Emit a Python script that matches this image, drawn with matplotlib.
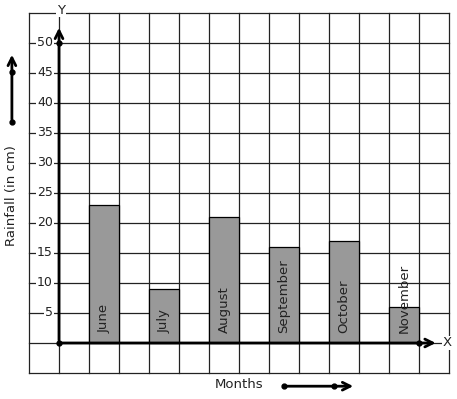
import matplotlib
matplotlib.use('Agg')
import matplotlib.pyplot as plt

months = ['June', 'July', 'August', 'September', 'October', 'November']
rainfall = [23, 9, 21, 16, 17, 6]
bar_left = [1, 3, 5, 7, 9, 11]
y_ticks = [5, 10, 15, 20, 25, 30, 35, 40, 45, 50]

fig = plt.figure(figsize=(4.57, 3.99), dpi=100)
ax = fig.add_axes([0, 0, 1, 1])
ax.set_xlim(-59 / 30, 398 / 30)
ax.set_ylim(-56 / 6, 343 / 6)
ax.axis('off')

# grid
for gx in range(-1, 14):
    ax.plot([gx, gx], [-5, 55], color='#222222', lw=0.9, zorder=1)
for gy in range(-5, 56, 5):
    ax.plot([-1, 13], [gy, gy], color='#222222', lw=0.9, zorder=1)

# bars
ax.bar(bar_left, rainfall, width=1, align='edge', color='#999999',
       edgecolor='black', lw=0.9, zorder=2)
for x, m in zip(bar_left, months):
    ax.text(x + 0.5, 1.6, m, rotation=90, ha='center', va='bottom',
            fontsize=9.5, color='#222222', zorder=3)

# tick labels
for t in y_ticks:
    ax.text(-0.2, t, str(t), ha='right', va='center', fontsize=9, color='#222222',
            bbox=dict(facecolor='white', edgecolor='none', pad=0.6), zorder=3)

# axes
ax.annotate('', xy=(0, 53), xytext=(0, 0),
            arrowprops=dict(arrowstyle='->', lw=2, color='black', mutation_scale=14), zorder=4)
ax.annotate('', xy=(12.65, 0), xytext=(0, 0),
            arrowprops=dict(arrowstyle='->', lw=2, color='black', mutation_scale=14), zorder=4)
ax.plot([0, 0, 12], [0, 50, 0], 'o', color='black', ms=3.5, zorder=5)
ax.text(0.07, 55.5, 'Y', ha='center', va='center', fontsize=9.5, color='#222222',
        bbox=dict(facecolor='white', edgecolor='none', pad=0.5), zorder=3)
ax.text(12.95, 0, 'X', ha='center', va='center', fontsize=9.5, color='#222222',
        bbox=dict(facecolor='white', edgecolor='none', pad=0.5), zorder=3)

# y label with arrow
ax.text(-1.57, 24.5, 'Rainfall (in cm)', rotation=90, ha='center', va='center',
        fontsize=9.5, color='#222222')
ax.annotate('', xy=(-1.57, 48.5), xytext=(-1.57, 36.8),
            arrowprops=dict(arrowstyle='->', lw=2, color='black', mutation_scale=14))
ax.plot([-1.57, -1.57], [36.8, 45.2], 'o', color='black', ms=3.5)

# x label with arrow
ax.text(6.0, -7.0, 'Months', ha='center', va='center', fontsize=9.5, color='#222222')
ax.annotate('', xy=(9.9, -7.2), xytext=(7.5, -7.2),
            arrowprops=dict(arrowstyle='->', lw=2, color='black', mutation_scale=14))
ax.plot([7.5, 9.17], [-7.2, -7.2], 'o', color='black', ms=3.5)

fig.savefig('out.png', dpi=100)
